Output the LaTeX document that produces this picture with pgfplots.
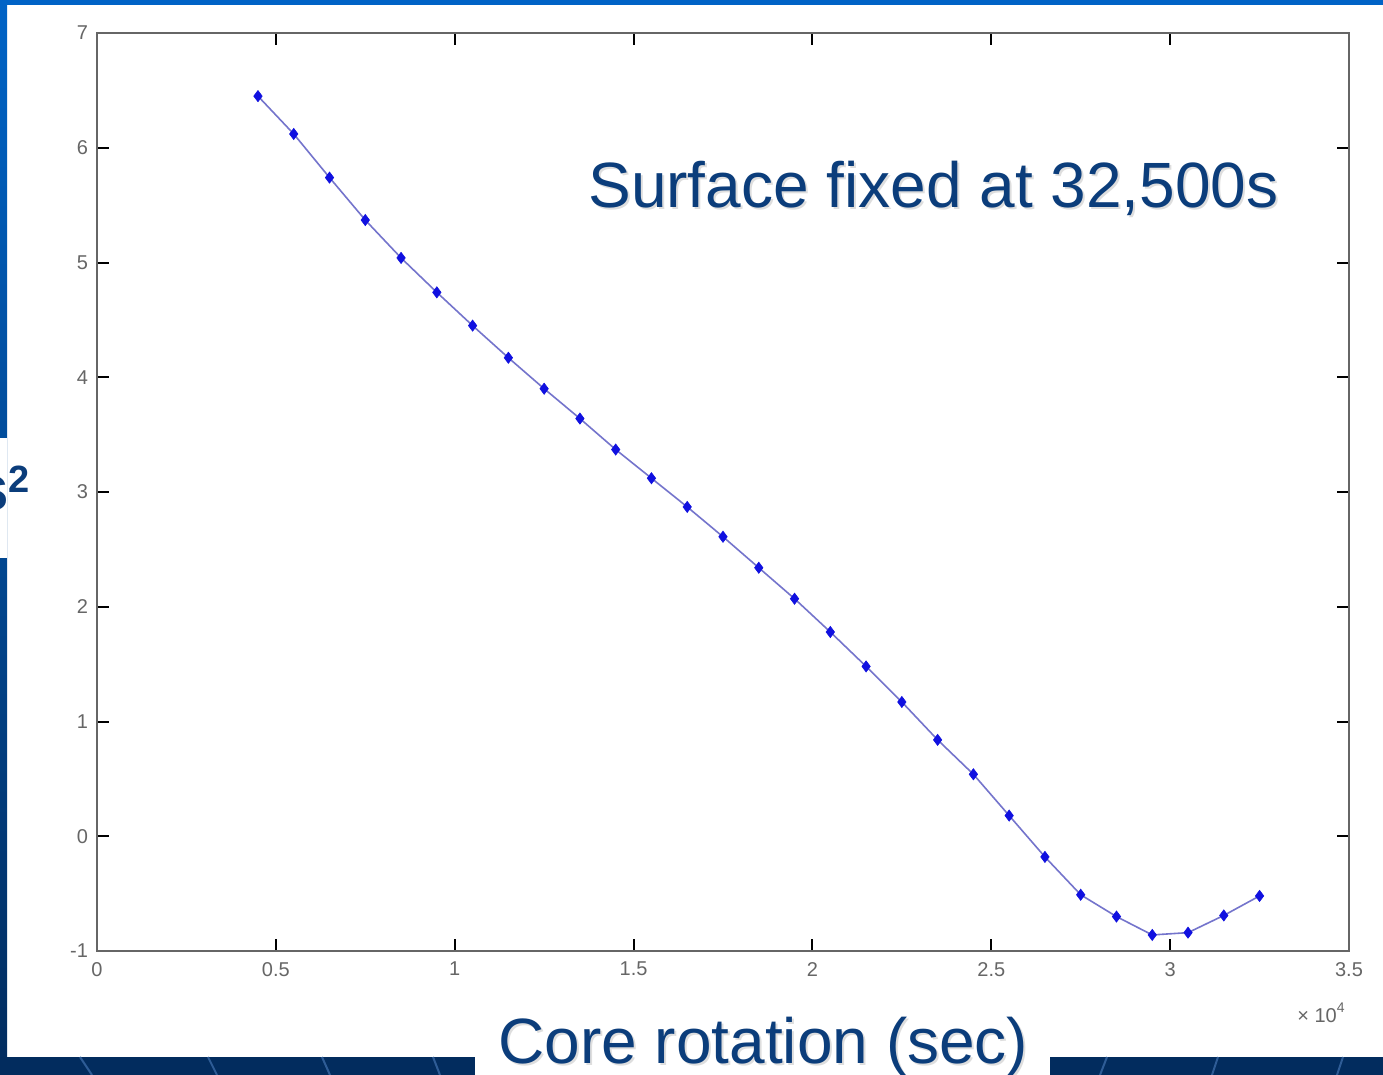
\documentclass[border=0pt]{standalone}
\usepackage{pgfplots}
\pgfplotsset{compat=1.18}
\usepackage{fontspec}
\setmainfont{Liberation Sans}
\definecolor{slideblue}{HTML}{0063C6}
\definecolor{navy}{HTML}{022C5E}
\definecolor{navyline}{HTML}{2E5C96}
\definecolor{txtblue}{HTML}{0B3D7B}
\definecolor{linecol}{HTML}{7474CC}
\definecolor{markcol}{HTML}{1010E0}
\pgfplotstableread{
x y
4500 6.45
5500 6.12
6500 5.74
7500 5.37
8500 5.04
9500 4.74
10500 4.45
11500 4.17
12500 3.90
13500 3.64
14500 3.37
15500 3.12
16500 2.87
17500 2.61
18500 2.34
19500 2.07
20500 1.78
21500 1.48
22500 1.17
23500 0.84
24500 0.54
25500 0.18
26500 -0.18
27500 -0.51
28500 -0.70
29500 -0.86
30500 -0.84
31500 -0.69
32500 -0.52
}\datatable
\begin{document}
\begin{tikzpicture}[x=0.5pt,y=-0.5pt]
\useasboundingbox (0,0) rectangle (1383,1075);
\clip (0,0) rectangle (1383,1075);
\fill[white] (0,0) rectangle (1383,1075);
\fill[slideblue] (0,0) rectangle (1383,5);
\shade[top color=slideblue, bottom color=navy] (0,0) rectangle (7,1075);
\fill[white] (0,438) rectangle (7,558);
\fill[navy] (0,1057) rectangle (475,1075);
\fill[navy] (1050,1057) rectangle (1383,1075);
\begin{scope}[navyline, line width=1pt]
\draw (80,1057) -- (92,1075);
\draw (208,1057) -- (217,1075);
\draw (322,1057) -- (330,1075);
\draw (433,1057) -- (440,1075);
\draw (1107,1057) -- (1100,1075);
\draw (1218,1057) -- (1212,1075);
\draw (1343,1057) -- (1337,1075);
\end{scope}
\begin{axis}[
  at={(48.5pt,-475.5pt)}, anchor=south west,
  scale only axis, width=626pt, height=459pt,
  xmin=0, xmax=35000, ymin=-1, ymax=7,
  scaled x ticks=false,
  xtick={0,5000,10000,15000,20000,25000,30000,35000},
  xticklabels={0,0.5,1,1.5,2,2.5,3,3.5},
  ytick={-1,0,1,2,3,4,5,6,7},
  yticklabels={-1,0,1,2,3,4,5,6,7},
  axis line style={draw=black!60, line width=1pt},
  tick style={black, line width=1pt},
  major tick length=6pt,
  tick align=inside,
  ticklabel style={font=\fontsize{10}{12}\selectfont, text=black!60},
  xticklabel style={yshift=-2pt},
  yticklabel style={xshift=-1pt},
  clip=false,
]
\addplot[color=linecol, line width=0.8pt, mark=diamond*, mark size=2.8pt,
  mark options={draw=markcol, fill=markcol, line width=0.3pt}] table[x=x,y=y] {\datatable};
\end{axis}
\node[anchor=base west, inner sep=0, font=\fontsize{32}{38}\selectfont, text=black!13] at (590,210) {Surface fixed at 32,500s};
\node[anchor=base west, inner sep=0, font=\fontsize{32}{38}\selectfont, text=txtblue] at (588,208) {Surface fixed at 32,500s};
\node[anchor=base west, inner sep=0, font=\fontsize{32}{38}\selectfont, text=black!13] at (500,1065) {Core rotation (sec)};
\node[anchor=base west, inner sep=0, font=\fontsize{32}{38}\selectfont, text=txtblue] at (498,1063) {Core rotation (sec)};
\node[anchor=base west, inner sep=0, text=txtblue] at (-27,510) {\fontsize{32}{32}\selectfont\bfseries s\raisebox{9pt}{\fontsize{19}{19}\selectfont 2}};
\node[anchor=base east, inner sep=0, font=\fontsize{10}{12}\selectfont, text=black!60] at (1345,1022) {× 10\raisebox{5pt}{\fontsize{7}{7}\selectfont 4}};
\end{tikzpicture}
\end{document}
